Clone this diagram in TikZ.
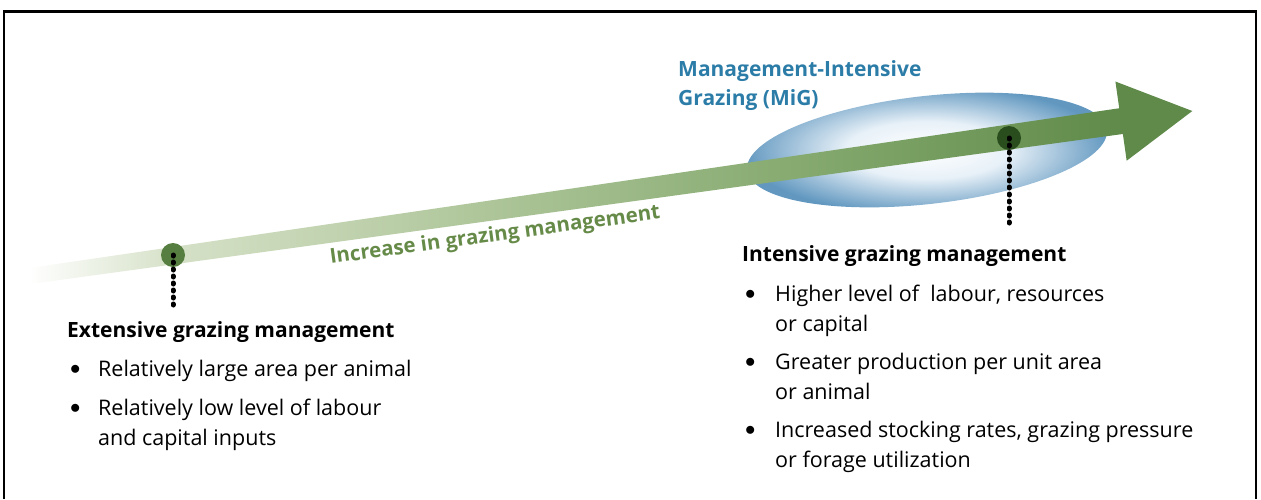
\documentclass[tikz,border=0pt]{standalone}
\usepackage{fontspec}
\setmainfont{Open Sans}
\usepackage{xcolor}
\usepackage{tikz}
\usetikzlibrary{positioning,shapes.geometric}

\definecolor{migblue}{RGB}{44,124,168}
\definecolor{migedge}{RGB}{98,152,192}
\definecolor{migcore}{RGB}{232,241,248}
\definecolor{palegreen}{RGB}{214,225,200}
\definecolor{sagegreen}{RGB}{176,199,156}
\definecolor{midgreen}{RGB}{134,170,112}
\definecolor{headgreen}{RGB}{95,138,73}
\definecolor{labelgreen}{RGB}{102,138,72}
\definecolor{lowdotgreen}{RGB}{86,126,64}
\definecolor{highdotgreen}{RGB}{42,77,30}

\pgfdeclarehorizontalshading{shaftfade}{100bp}{color(0bp)=(white); color(25bp)=(white); color(31.5bp)=(palegreen); color(45bp)=(sagegreen); color(60bp)=(midgreen); color(75bp)=(headgreen); color(100bp)=(headgreen)}
\pgfdeclareradialshading{migglow}{\pgfpoint{0bp}{0bp}}{color(0bp)=(white); color(11bp)=(migcore); color(25bp)=(migedge); color(50bp)=(migedge)}

\newcommand{\itemdot}{\hspace{3pt}\raisebox{1.8pt}{$\bullet$}}

\begin{document}
\begin{tikzpicture}[x=1pt, y=-1pt,
  milestone/.style={circle, minimum size=24, inner sep=0},
  stem/.style={line width=5, line cap=round, dash pattern=on 1pt off 6pt},
  migzone/.style={ellipse, minimum width=362, minimum height=108, inner sep=0, shading=migglow},
  heading/.style={anchor=base west, inner sep=0, font=\fontsize{21}{30}\selectfont\bfseries},
  itemlist/.style={anchor=base west, inner sep=0, font=\fontsize{21.5}{30}\selectfont}]
\useasboundingbox (0,0) rectangle (1261,499);

% frame, open at the bottom
\draw[line width=2] (4,499) -- (4,11) (1256,11) -- (1256,499);
\draw[line width=3] (3,11) -- (1257,11);

\node[migzone, rotate=6.4] (mig) at (927,150) {};

% the long arrow
\begin{scope}[shift={(30,276)}, rotate=8.08]
  \shade[shading=shaftfade] (0,-8) -- (1104,-13) -- (1104,13) -- (0,8) -- cycle;
  \fill[headgreen] (1102,-40) -- (1174,0) -- (1102,40) -- cycle;
\end{scope}

\node[milestone, fill=lowdotgreen] (lowdot) at (173,255) {};
\node[milestone, fill=highdotgreen] (highdot) at (1009,138) {};
\coordinate (lowfoot) at (173,308);
\coordinate (highfoot) at (1009,228);
\draw[stem] (lowdot.center) -- (lowfoot);
\draw[stem] (highdot.center) -- (highfoot);

\node[font=\fontsize{20.5}{24}\selectfont\bfseries, text=labelgreen, rotate=7.8] (trend) at (495,236) {Increase in grazing management};

\node[anchor=base west, inner sep=0, text=migblue, font=\fontsize{21}{29}\selectfont\bfseries] (miglabel) at (678,76)
  {\begin{tabular}[t]{@{}l@{}}Management-Intensive\\Grazing (MiG)\end{tabular}};

\node[heading] (exthead) at (67,337) {Extensive grazing management};
\node[itemlist] (extlist) at (67,376) {\begin{tabular}[t]{@{}p{31pt}@{}l@{}}
  \itemdot & Relatively large area per animal\\[9pt]
  \itemdot & Relatively low level of labour\\
  & and capital inputs
\end{tabular}};

\node[heading] (inthead) at (742,261) {Intensive grazing management};
\node[itemlist] (intlist) at (742,301) {\begin{tabular}[t]{@{}p{33pt}@{}l@{}}
  \itemdot & Higher level of\ \ labour, resources\\
  & or capital\\[8pt]
  \itemdot & Greater production per unit area\\
  & or animal\\[8pt]
  \itemdot & Increased stocking rates, grazing pressure\\
  & or forage utilization
\end{tabular}};

\end{tikzpicture}
\end{document}
